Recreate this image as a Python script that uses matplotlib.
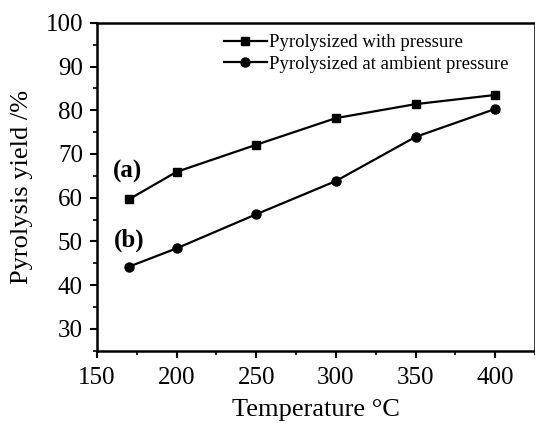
import matplotlib
matplotlib.use("Agg")
import matplotlib.pyplot as plt
from matplotlib.ticker import MultipleLocator

plt.rcParams["font.family"] = ["Liberation Serif", "DejaVu Serif"]

temps = [170, 200, 250, 300, 350, 400]
yield_pressure = [59.6, 65.9, 72.1, 78.2, 81.4, 83.5]
yield_ambient = [44.2, 48.4, 56.2, 63.8, 73.9, 80.3]

fig = plt.figure(figsize=(5.35, 4.23), dpi=100)
ax = fig.add_axes([0.181, 0.171, 0.819, 0.775])

ax.plot(temps, yield_pressure, color="black", lw=1.6, marker="s", ms=6,
        label="Pyrolysized with pressure")
ax.plot(temps, yield_ambient, color="black", lw=1.6, marker="o", ms=6.5,
        label="Pyrolysized at ambient pressure")

ax.text(169, 66, "(a)", fontsize=18, fontweight="bold", ha="center", va="center")
ax.text(170, 50.2, "(b)", fontsize=18, fontweight="bold", ha="center", va="center")

ax.set_xlim(150, 425)
ax.set_ylim(25, 100)
ax.xaxis.set_major_locator(MultipleLocator(50))
ax.xaxis.set_minor_locator(MultipleLocator(25))
ax.yaxis.set_major_locator(MultipleLocator(10))
ax.yaxis.set_minor_locator(MultipleLocator(5))
ax.set_yticks(range(30, 101, 10))
ax.tick_params(which="major", direction="out", length=5, width=1.5, labelsize=18)
ax.tick_params(axis="x", which="major", pad=7)
ax.tick_params(axis="y", which="major", pad=5)
ax.tick_params(which="minor", direction="out", length=3, width=1.2)
for s in ax.spines.values():
    s.set_linewidth(1.8)

ax.set_xlabel("Temperature °C", fontsize=19, labelpad=7)
ax.set_ylabel("Pyrolysis yield /%", fontsize=19, labelpad=9)

ax.legend(loc="upper right", frameon=False, fontsize=13.5, handlelength=2.3,
          handletextpad=0.1, labelspacing=0.25, borderaxespad=0.2,
          bbox_to_anchor=(0.965, 1.0))

fig.savefig("out.png", dpi=100)
